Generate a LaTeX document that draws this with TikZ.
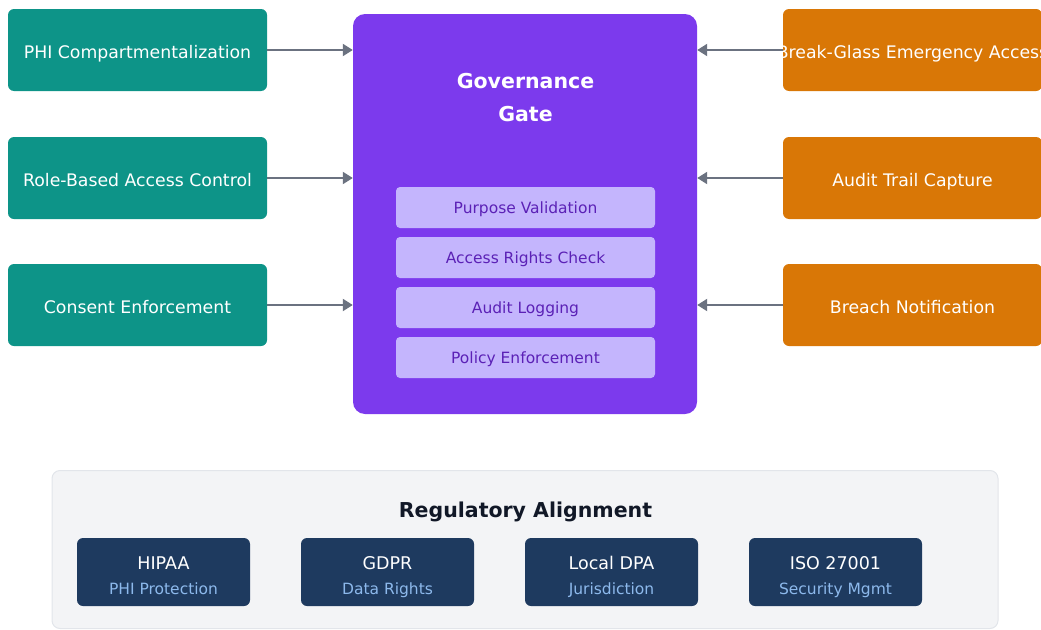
\documentclass[tikz,border=0pt]{standalone}
\usepackage{fontspec}
\setmainfont{DejaVu Sans}
\usetikzlibrary{arrows.meta}

\definecolor{teal}{HTML}{0D9488}
\definecolor{amber}{HTML}{D97706}
\definecolor{gatepurple}{HTML}{7C3AED}
\definecolor{steplilac}{HTML}{C4B5FD}
\definecolor{steptext}{HTML}{5B21B6}
\definecolor{linkgray}{HTML}{6B7280}
\definecolor{panelbg}{HTML}{F3F4F6}
\definecolor{panelline}{HTML}{E2E5EA}
\definecolor{navy}{HTML}{1E3A5F}
\definecolor{skyblue}{HTML}{8DB9EC}
\definecolor{ink}{HTML}{111827}

\tikzset{
  control/.style={rectangle, rounded corners=6pt, inner sep=0pt, outer sep=0pt,
    minimum width=259pt, minimum height=82pt},
  leftctl/.style={control, fill=teal},
  rightctl/.style={control, fill=amber},
  ctltext/.style={anchor=base, inner sep=0pt, text=white,
    font=\fontsize{17.3}{20}\selectfont},
  stepbox/.style={rectangle, rounded corners=4pt, fill=steplilac, inner sep=0pt,
    minimum width=259pt, minimum height=41pt},
  steplabel/.style={anchor=base, inner sep=0pt, text=steptext,
    font=\fontsize{15.5}{18}\selectfont},
  regbox/.style={rectangle, rounded corners=6pt, fill=navy, inner sep=0pt,
    minimum width=173pt, minimum height=68pt},
  regtitle/.style={anchor=base, inner sep=0pt, text=white,
    font=\fontsize{17.5}{20}\selectfont},
  regsub/.style={anchor=base, inner sep=0pt, text=skyblue,
    font=\fontsize{15.5}{18}\selectfont},
  headline/.style={anchor=base, inner sep=0pt, font=\bfseries\fontsize{20.5}{24}\selectfont},
  link/.style={draw=linkgray, line width=2pt, -{Triangle[length=10pt,width=12pt]}},
}

\begin{document}
\begin{tikzpicture}[x=1pt, y=-1pt]
  \useasboundingbox (0,0) rectangle (1041,629);
  \clip (0,0) rectangle (1041,629);

  % central gate
  \node[rectangle, rounded corners=12pt, fill=gatepurple, minimum width=344pt,
        minimum height=400pt, inner sep=0pt] (gate) at (525,214) {};
  \node[headline, text=white] (gatetitle1) at (525.5,88) {Governance};
  \node[headline, text=white] (gatetitle2) at (525.5,121) {Gate};

  \foreach \nm/\cy/\txt in {s1/207.5/Purpose Validation,
                            s2/257.5/Access Rights Check,
                            s3/307.5/Audit Logging,
                            s4/357.5/Policy Enforcement} {
    \node[stepbox] (\nm) at (525.5,\cy) {};
    \node[steplabel] (\nm-l) at ([yshift=-5.5pt]\nm.center) {\txt};
  }

  % privacy controls on the left, accountability controls on the right
  \foreach \nm/\cx/\cy/\kind/\txt in {l1/137.5/50/leftctl/PHI Compartmentalization,
                                      l2/137.5/178/leftctl/Role-Based Access Control,
                                      l3/137.5/305/leftctl/Consent Enforcement,
                                      r1/912.5/50/rightctl/Break-Glass Emergency Access,
                                      r2/912.5/178/rightctl/Audit Trail Capture,
                                      r3/912.5/305/rightctl/Breach Notification} {
    \node[\kind] (\nm) at (\cx,\cy) {};
    \node[ctltext] (\nm-l) at ([yshift=-8pt]\nm.center) {\txt};
  }

  \foreach \n in {l1,l2,l3} \draw[link] (\n.east) -- (gate.west |- \n.east);
  \foreach \n in {r1,r2,r3} \draw[link] (\n.west) -- (gate.east |- \n.west);

  % regulatory panel
  \node[rectangle, rounded corners=8pt, fill=panelbg, draw=panelline, line width=1pt,
        minimum width=946pt, minimum height=158pt, inner sep=0pt] (panel) at (525,549.5) {};
  \node[headline, text=ink] (paneltitle) at (525.5,517) {Regulatory Alignment};

  \foreach \nm/\cx/\ttl/\sub in {hipaa/163.5/HIPAA/PHI Protection,
                                 gdpr/387.5/GDPR/Data Rights,
                                 dpa/611.5/Local DPA/Jurisdiction,
                                 iso/835.5/ISO 27001/Security Mgmt} {
    \node[regbox] (\nm) at (\cx,572) {};
    \node[regtitle] (\nm-t) at (\cx,569) {\ttl};
    \node[regsub] (\nm-s) at (\cx,594) {\sub};
  }
\end{tikzpicture}
\end{document}
